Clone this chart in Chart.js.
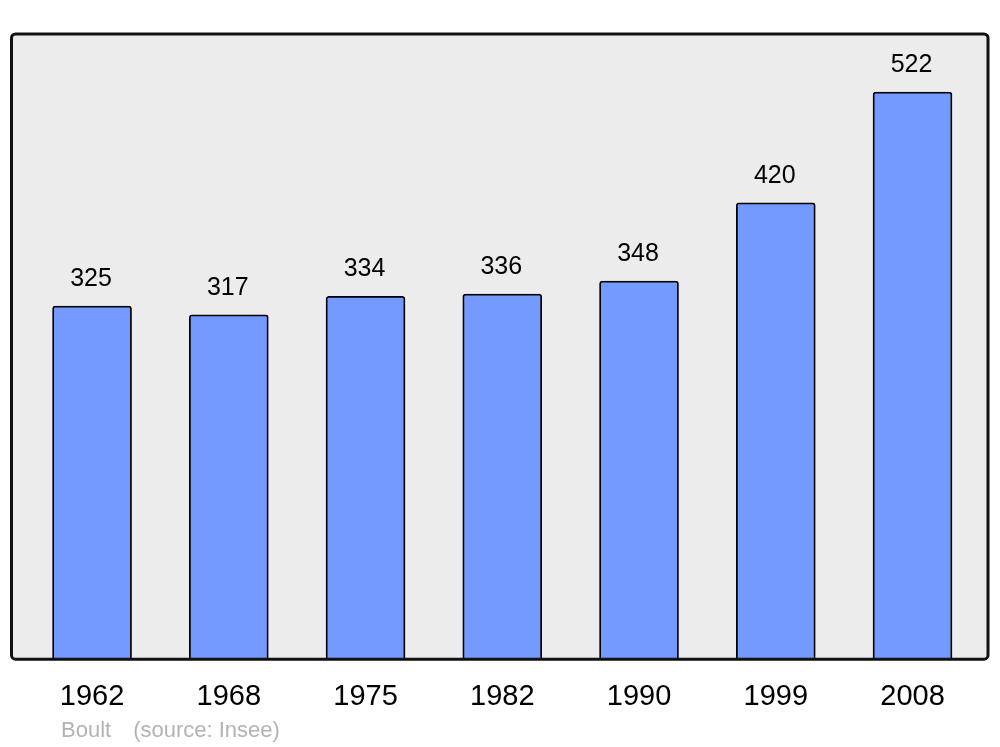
<!DOCTYPE html>
<html>
<head>
<meta charset="utf-8">
<script src="https://cdn.jsdelivr.net/npm/chart.js@4"></script>
<style>
  body { margin: 0; background: #fff; }
  #wrap { position: relative; width: 1000px; height: 747px; }
  #note { position: absolute; left: 61px; top: 717px; font: 22px "Liberation Sans", Arial, sans-serif; color: #b3b3b3; }
  #note span + span { margin-left: 22px; }
</style>
</head>
<body>
<div id="wrap">
  <canvas id="popChart" width="1000" height="747"></canvas>
  <div id="note"><span>Boult</span><span>(source: Insee)</span></div>
</div>
<script>
// Population par année de recensement
const years = ["1962", "1968", "1975", "1982", "1990", "1999", "2008"];
const population = [325, 317, 334, 336, 348, 420, 522];

// Fond gris et cadre noir autour de la zone du graphique
const cadre = {
  id: "cadre",
  beforeDatasetsDraw(chart) {
    const { ctx, chartArea: a } = chart;
    ctx.save();
    ctx.fillStyle = "#ececec";
    ctx.beginPath();
    ctx.roundRect(a.left, a.top, a.right - a.left, a.bottom - a.top, 4);
    ctx.fill();
    ctx.restore();
  },
  afterDatasetsDraw(chart) {
    const { ctx, chartArea: a } = chart;
    ctx.save();
    ctx.strokeStyle = "#111";
    ctx.lineWidth = 3;
    ctx.beginPath();
    ctx.roundRect(a.left, a.top, a.right - a.left, a.bottom - a.top, 4);
    ctx.stroke();
    // valeurs au-dessus des barres
    ctx.fillStyle = "#000";
    ctx.font = '25px "Liberation Sans", Arial, sans-serif';
    ctx.textAlign = "center";
    ctx.textBaseline = "middle";
    chart.getDatasetMeta(0).data.forEach((bar, i) => {
      ctx.fillText(String(population[i]), bar.x - 1, bar.y - 27);
    });
    ctx.restore();
  }
};

const ctx = document.getElementById("popChart").getContext("2d");
new Chart(ctx, {
  type: "bar",
  data: {
    datasets: [{
      data: population.map((v, i) => ({ x: i, y: v })),
      backgroundColor: "#7499ff",
      borderColor: "#000",
      borderWidth: 1.8,
      borderRadius: { topLeft: 3, topRight: 3 },
      barThickness: 79
    }]
  },
  options: {
    responsive: false,
    animation: false,
    layout: { padding: { left: 11.5, right: 12, top: 34, bottom: 13 } },
    plugins: { legend: { display: false }, tooltip: { enabled: false } },
    scales: {
      x: {
        type: "linear",
        offset: false,
        min: -0.589,
        max: 6.552,
        grid: { display: false, drawTicks: false },
        border: { display: false },
        afterBuildTicks(axis) {
          axis.ticks = years.map((y, i) => ({ value: i }));
        },
        ticks: {
          padding: 20,
          color: "#000",
          font: { family: '"Liberation Sans", Arial, sans-serif', size: 29 },
          callback: (v) => years[v]
        }
      },
      y: {
        display: false,
        min: 0,
        max: 575.4
      }
    }
  },
  plugins: [cadre]
});
</script>
</body>
</html>
